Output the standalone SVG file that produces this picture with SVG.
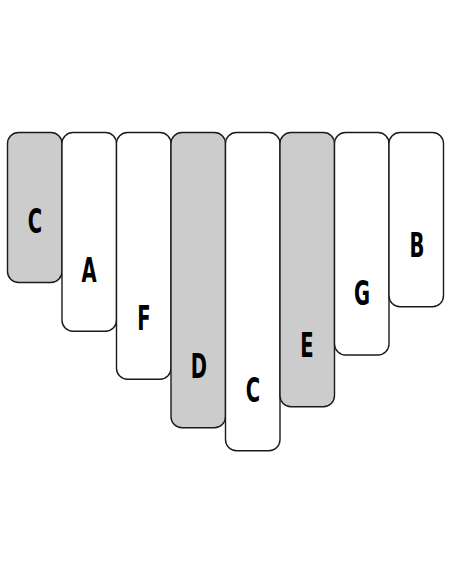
<svg xmlns="http://www.w3.org/2000/svg" width="452" height="584" viewBox="0 0 452 584">
<style>
.k{stroke:#1a1a1a;stroke-width:1.4}
.w{fill:#ffffff}
.g{fill:#cccccc}
.t{font-family:"DejaVu Sans","Liberation Sans",sans-serif;font-stretch:condensed;font-weight:bold;font-size:33px;fill:#000;text-anchor:middle}
</style>
<rect width="452" height="584" fill="#ffffff"/>
<g id="key1"><rect class="k g" x="7.5" y="132.5" width="54.5" height="150" rx="11"/><text class="t" transform="translate(35 233) scale(0.66 1)">C</text></g>
<g id="key2"><rect class="k w" x="62" y="132.5" width="54.5" height="198.8" rx="11"/><text class="t" transform="translate(89 282) scale(0.66 1)">A</text></g>
<g id="key3"><rect class="k w" x="116.5" y="132.5" width="54.5" height="246.8" rx="11"/><text class="t" transform="translate(144 330) scale(0.66 1)">F</text></g>
<g id="key4"><rect class="k g" x="171" y="132.5" width="54.5" height="295.2" rx="11"/><text class="t" transform="translate(199 378) scale(0.66 1)">D</text></g>
<g id="key5"><rect class="k w" x="225.5" y="132.5" width="54.5" height="318.2" rx="11"/><text class="t" transform="translate(253 402) scale(0.66 1)">C</text></g>
<g id="key6"><rect class="k g" x="280" y="132.5" width="54.5" height="274.2" rx="11"/><text class="t" transform="translate(307 357) scale(0.66 1)">E</text></g>
<g id="key7"><rect class="k w" x="334.5" y="132.5" width="54.5" height="222.5" rx="11"/><text class="t" transform="translate(362 305) scale(0.66 1)">G</text></g>
<g id="key8"><rect class="k w" x="389" y="132.5" width="54.5" height="174.2" rx="11"/><text class="t" transform="translate(417 257) scale(0.66 1)">B</text></g>
<g id="connectors"></g>
</svg>
